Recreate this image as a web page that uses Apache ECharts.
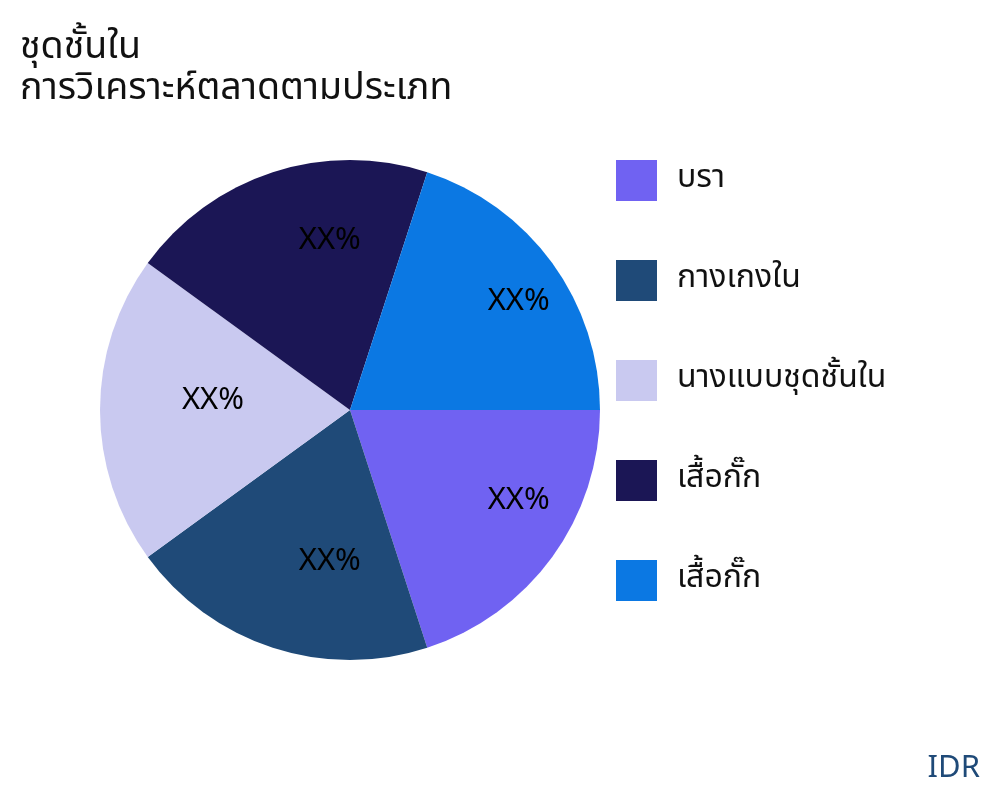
<!DOCTYPE html>
<html>
<head>
<meta charset="utf-8">
<script src="https://cdn.jsdelivr.net/npm/echarts@6/dist/echarts.min.js"></script>
<style>
  html, body { margin: 0; padding: 0; background: #fff; }
  #chart { width: 1000px; height: 800px; }
</style>
</head>
<body>
<div id="chart"></div>
<script>
// ข้อมูลแผนภูมิ
const categories = ['บรา', 'กางเกงใน', 'นางแบบชุดชั้นใน', 'เสื้อกั๊ก', 'เสื้อกั๊ก'];
const values = [20, 20, 20, 20, 20];
const labels = ['XX%', 'XX%', 'XX%', 'XX%', 'XX%'];
const colors = ['#7062f2', '#1f4a78', '#c9c9f0', '#1b1655', '#0b78e3'];

const font = '"Noto Sans Thai", "Noto Sans", "DejaVu Sans", sans-serif';

const pieData = categories.map((name, i) => ({
  name: name + (i === 4 ? ' ' : ''), // แยกชื่อซ้ำให้ legend แสดงครบ
  value: values[i],
  itemStyle: { color: colors[i] }
}));

const labelData = categories.map((name, i) => ({
  name: name + (i === 4 ? ' ' : ''),
  value: values[i],
  // บรรทัดว่างด้านล่างช่วยยกข้อความขึ้นเล็กน้อย
  label: { formatter: '{t|' + labels[i] + '}\n{s|}' }
}));

const chart = echarts.init(document.getElementById('chart'));
chart.setOption({
  backgroundColor: '#fff',
  animation: false,
  title: [
    {
      text: 'ชุดชั้นใน\nการวิเคราะห์ตลาดตามประเภท',
      left: 20,
      top: 30,
      padding: 0,
      textStyle: { fontFamily: font, fontSize: 37.5, fontWeight: 'normal', color: '#111', lineHeight: 41 }
    },
    {
      text: 'IDR',
      right: 20,
      bottom: 14,
      padding: 0,
      textStyle: { fontFamily: font, fontSize: 31, fontWeight: 'normal', color: '#1f4a78' }
    }
  ],
  legend: {
    orient: 'vertical',
    left: 616,
    top: 160,
    padding: 0,
    itemWidth: 41,
    itemHeight: 41,
    itemGap: 59,
    icon: 'rect',
    selectedMode: false,
    data: pieData.map(d => d.name),
    textStyle: { fontFamily: font, fontSize: 32, color: '#111', padding: [0, 0, 0, 15] }
  },
  series: [
    {
      type: 'pie',
      center: [350, 410],
      radius: [0, 250],
      startAngle: 0,
      clockwise: true,
      label: { show: false },
      labelLine: { show: false },
      silent: true,
      data: pieData
    },
    {
      // ชั้นโปร่งใสสำหรับวางป้ายกำกับ
      type: 'pie',
      center: [350, 410],
      radius: [82, 250],
      startAngle: 0,
      clockwise: true,
      silent: true,
      legendHoverLink: false,
      itemStyle: { color: 'rgba(0,0,0,0)' },
      label: {
        show: true,
        position: 'inside',
        color: '#000',
        padding: [0, 0, 0, 64],
        rich: {
          t: { fontFamily: font, fontSize: 31, color: '#000', lineHeight: 38 },
          s: { fontSize: 1, lineHeight: 14 }
        }
      },
      labelLine: { show: false },
      data: labelData
    }
  ]
});
</script>
</body>
</html>
